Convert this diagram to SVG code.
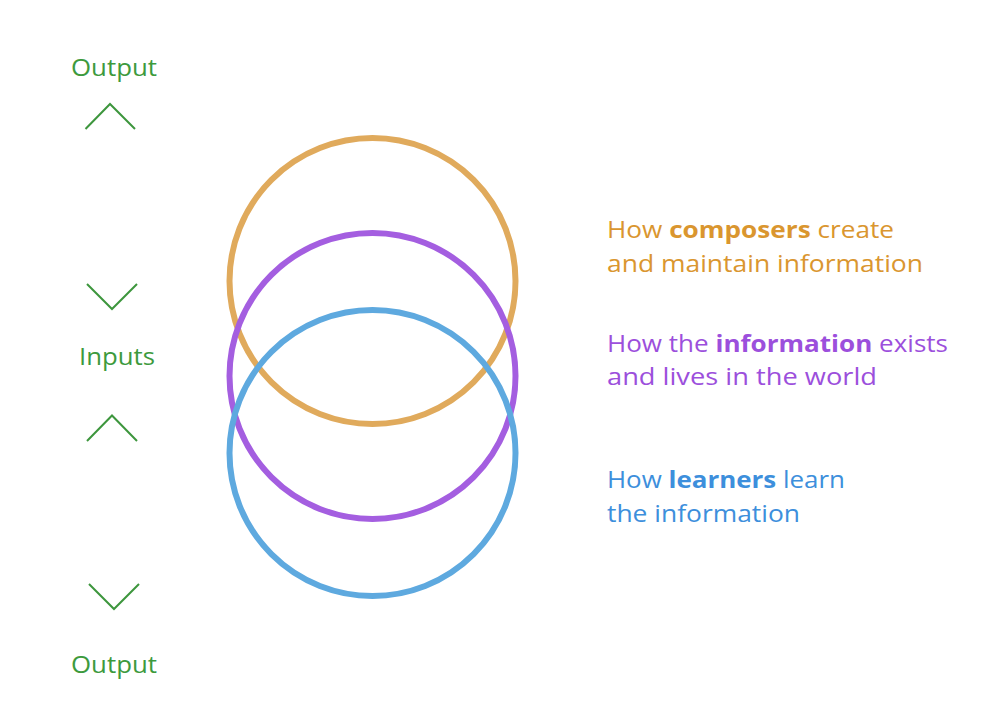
<svg xmlns="http://www.w3.org/2000/svg" width="1000" height="708" viewBox="0 0 1000 708">
<style>
.lbl{font-family:"Open Sans","Noto Sans","Liberation Sans",sans-serif;font-size:23px;font-weight:400}
.g{fill:#3d9a3d}
.chev{fill:none;stroke:#3d963d;stroke-width:2}
.ring{fill:none;stroke-width:6}
.b{font-weight:700}
</style>
<rect width="1000" height="708" fill="#ffffff"/>
<g id="flow-markers">
<text id="output-top" class="lbl g" x="71" y="76" textLength="86" lengthAdjust="spacingAndGlyphs">Output</text>
<polyline class="chev" points="85.5,129 110,104 135,129"/>
<polyline class="chev" points="87,284 112,309 137,284"/>
<text id="inputs" class="lbl g" x="79" y="365" textLength="76" lengthAdjust="spacingAndGlyphs">Inputs</text>
<polyline class="chev" points="87,441 112,415.5 137,441"/>
<polyline class="chev" points="89,584 114,609 139,584"/>
<text id="output-bottom" class="lbl g" x="71" y="673" textLength="86" lengthAdjust="spacingAndGlyphs">Output</text>
</g>
<g id="circles">
<circle id="composers-circle" class="ring" cx="372.5" cy="281" r="143" stroke="#e0aa5c"/>
<circle id="information-circle" class="ring" cx="372.5" cy="376" r="143" stroke="#a45ee0"/>
<circle id="learners-circle" class="ring" cx="372.5" cy="453" r="143" stroke="#5ea9df"/>
</g>
<g id="composers-label" fill="#da962f">
<text class="lbl" x="607" y="238" textLength="287" lengthAdjust="spacingAndGlyphs">How <tspan class="b">composers</tspan> create</text>
<text class="lbl" x="607" y="272" textLength="316" lengthAdjust="spacingAndGlyphs">and maintain information</text>
</g>
<g id="information-label" fill="#9c4fdc">
<text class="lbl" x="607" y="352" textLength="341" lengthAdjust="spacingAndGlyphs">How the <tspan class="b">information</tspan> exists</text>
<text class="lbl" x="607" y="385" textLength="270" lengthAdjust="spacingAndGlyphs">and lives in the world</text>
</g>
<g id="learners-label" fill="#3d8fdc">
<text class="lbl" x="607" y="488" textLength="238" lengthAdjust="spacingAndGlyphs">How <tspan class="b">learners</tspan> learn</text>
<text class="lbl" x="607" y="522" textLength="193" lengthAdjust="spacingAndGlyphs">the information</text>
</g>
</svg>
